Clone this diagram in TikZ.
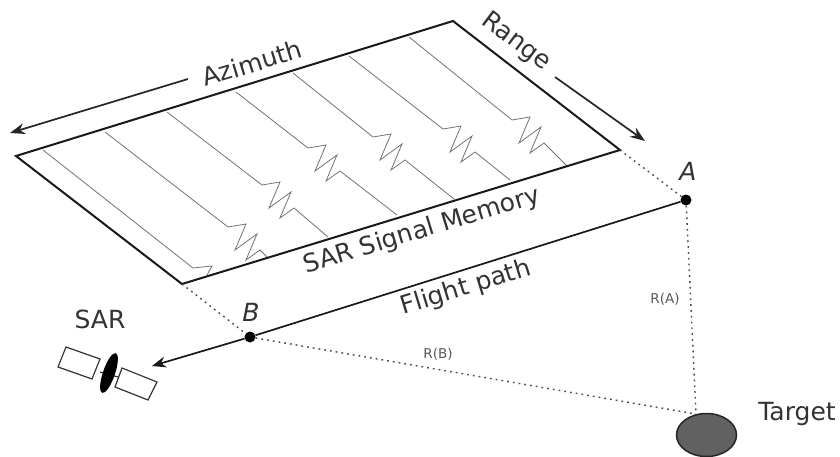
\documentclass[tikz,border=0pt]{standalone}
\usepackage{fontspec}
\setmainfont{DejaVu Sans}
\usetikzlibrary{arrows.meta,shapes.geometric}
\tikzset{
  frameline/.style={draw=black!90,line width=2pt,line join=miter},
  trace/.style={draw=black!55,line width=0.8pt,line join=miter},
  dotline/.style={draw=black!70,line width=1.4pt,dash pattern=on 1.8pt off 4pt},
  flightplain/.style={draw=black!90,line width=1.7pt},
  flight/.style={draw=black!90,line width=1.7pt,-{Stealth[length=14pt,width=11pt]}},
  axisarrow/.style={draw=black!85,line width=1.7pt,-{Stealth[length=15pt,width=11pt]}},
  biglbl/.style={inner sep=0pt,text=black!80,font=\fontsize{25}{25}\selectfont},
  sublbl/.style={inner sep=0pt,text=black!65,font=\fontsize{13.5}{13.5}\selectfont},
  ptlbl/.style={inner sep=0pt,text=black!80,font=\fontsize{25}{25}\selectfont\itshape},
  pt/.style={circle,fill=black,inner sep=0pt,minimum size=11pt},
  panel/.style={draw=black!80,line width=1.2pt,fill=white}
}
\newcommand{\zigtrace}[3]{% top point, zig start, end point
  \draw[trace] (#1) -- (#2) -- ++(18,-3) -- ++(-11,26) -- ++(22,-16) -- ++(-11,26) -- ++(14,-10) -- (#3);
}
\begin{document}
\begin{tikzpicture}[x=1pt,y=-1pt]
\useasboundingbox (0,0) rectangle (840,457);
\fill[white] (0,0) rectangle (840,457);
% memory frame corners
\coordinate (TL) at (16,156);
\coordinate (TR) at (453,21);
\coordinate (BR) at (620,150);
\coordinate (BL) at (182,284);
% traces
\coordinate (t1) at (43,150);
\coordinate (z1) at (193,268);
\coordinate (z1a) at (212,266);
\coordinate (z1b) at (207,275);
\draw[trace] (t1) -- (z1) -- (z1a) -- (z1b);
\coordinate (t2) at (105,132); \coordinate (z2) at (228,227); \coordinate (e2) at (267,257);
\zigtrace{t2}{z2}{e2}
\coordinate (t3) at (167,112); \coordinate (z3) at (262,185); \coordinate (e3) at (328,237);
\zigtrace{t3}{z3}{e3}
\coordinate (t4) at (236,92); \coordinate (z4) at (308,148); \coordinate (e4) at (397,215);
\zigtrace{t4}{z4}{e4}
\coordinate (t5) at (293,73); \coordinate (z5) at (373,137); \coordinate (e5) at (454,199);
\zigtrace{t5}{z5}{e5}
\coordinate (t6) at (349,56); \coordinate (z6) at (443,129); \coordinate (e6) at (510,180);
\zigtrace{t6}{z6}{e6}
\coordinate (t7) at (409,37); \coordinate (z7) at (512,120); \coordinate (e7) at (567,166);
\zigtrace{t7}{z7}{e7}
\draw[frameline] (TL) -- (TR) -- (BR) -- (BL) -- cycle;
% axes
\coordinate (azS) at (188,79); \coordinate (azE) at (10,133);
\draw[axisarrow] (azS) -- (azE);
\coordinate (raS) at (555,77); \coordinate (raE) at (645,141);
\draw[axisarrow] (raS) -- (raE);
\node[biglbl,rotate=17] (azimuth) at (252,63) {Azimuth};
\node[biglbl,rotate=-37] (range) at (516,42) {Range};
\node[biglbl,rotate=17] (memory) at (422,231) {SAR Signal Memory};
\node[biglbl,rotate=17] (fpath) at (466,288) {Flight path};
% points
\node[pt] (A) at (686,200) {};
\node[pt] (B) at (250,337) {};
\node[ptlbl] (Alab) at (688,171) {A};
\node[ptlbl] (Blab) at (251,312) {B};
\coordinate (flightEnd) at (152,366);
\draw[flightplain] (A) -- (B);
\draw[flight] (B) -- (flightEnd);
\coordinate (targetTop) at (696,414);
\draw[dotline] (BR) -- (A);
\draw[dotline] (BL) -- (B);
\draw[dotline] (A) -- (targetTop);
\draw[dotline] (B) -- (targetTop);
\node[sublbl] (ra) at (665,299) {R(A)};
\node[sublbl] (rb) at (438,354) {R(B)};
% target
\node[ellipse,draw=black!85,line width=1.5pt,fill=black!62,minimum width=60pt,minimum height=43pt,inner sep=0pt] (target) at (706.5,435) {};
\node[biglbl] (targetlab) at (797,414) {Target};
% SAR
\node[biglbl] (sarlab) at (100,319) {SAR};
\draw[panel] (66,347) -- (100,359) -- (92,379) -- (58,367) -- cycle;
\draw[panel] (122,368) -- (157,382) -- (148,400) -- (115,387) -- cycle;
\draw[black!80,line width=1.2pt] (100,372) -- (118,377);
\node[ellipse,fill=black,minimum width=42pt,minimum height=12pt,inner sep=0pt,rotate=71] (dish) at (109,373) {};
\end{tikzpicture}
\end{document}
